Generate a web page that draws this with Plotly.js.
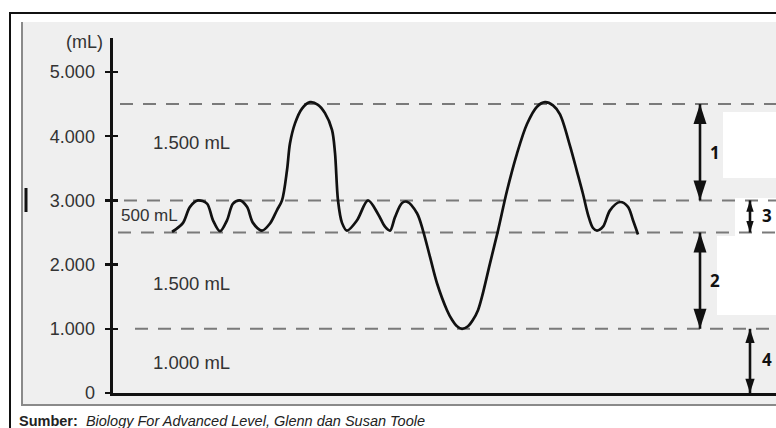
<!DOCTYPE html>
<html><head><meta charset="utf-8">
<script src="https://cdn.plot.ly/plotly-3.0.1.min.js"></script>
<style>html,body{margin:0;padding:0;background:#fff;}#chart{width:776px;height:428px;}</style>
</head><body><div id="chart"></div>
<script>
// ---- data ----
const timeT = [5.9, 6.2, 7.0, 7.7, 8.5, 9.4, 10.0, 10.7, 11.4, 12.0, 12.7, 13.4, 14.0, 14.9, 15.7, 16.4, 16.9, 17.4, 17.7, 18.2, 18.9, 19.7, 20.5, 21.2, 21.9, 22.2, 22.5, 22.9, 23.4, 24.4, 25.5, 26.5, 27.2, 27.7, 28.2, 28.9, 29.4, 30.4, 31.0, 31.7, 32.4, 33.4, 33.9, 34.4, 34.9, 35.5, 36.0, 36.5, 36.9, 37.7, 38.5, 39.4, 40.4, 41.4, 42.4, 43.2, 44.0, 44.7, 45.7, 46.4, 47.0, 47.5, 48.0, 48.4, 49.0, 49.7, 50.7, 51.5, 52.0, 52.5];
const volumeML = [2510, 2540, 2650, 2900, 3000, 2950, 2690, 2520, 2690, 2950, 3000, 2900, 2650, 2530, 2640, 2850, 3000, 3470, 3890, 4200, 4430, 4530, 4490, 4360, 4100, 3740, 3000, 2650, 2530, 2690, 3000, 2790, 2590, 2530, 2740, 2960, 2980, 2800, 2530, 2120, 1710, 1290, 1140, 1040, 1000, 1040, 1140, 1290, 1500, 2020, 2530, 3150, 3730, 4190, 4460, 4530, 4480, 4340, 3850, 3450, 3100, 2780, 2570, 2530, 2590, 2845, 2975, 2900, 2690, 2470];
const levelML = [4500, 3000, 2500, 1000];
const yTickVals = [0, 1000, 2000, 3000, 4000, 5000];
const regionLabels = ['1.500 mL', '500 mL', '1.500 mL', '1.000 mL'];
const regionLabelX = [7.8, 3.6, 7.8, 7.8];
const regionLabelY = [3900, 2770, 1710, 470];
const arrowNames = ['1', '2', '3', '4'];
const arrowX = [58.7, 58.7, 63.7, 63.7];
const arrowTop = [4500, 2500, 3000, 1000];
const arrowBottom = [3000, 1000, 2500, 0];
const arrowNameX = [60.2, 60.2, 65.4, 65.4];
const arrowNameY = [3740, 1760, 2770, 520];
const unitLabel = '(mL)';
const sourceLabel = 'Sumber:';
const sourceText = 'Biology For Advanced Level, Glenn dan Susan Toole';

// ---- layout helpers (pixel -> paper) ----
const L = 113, T = 38, PW = 663, PH = 355;
const P = x => (x - L) / PW;
const Q = y => (T + PH - y) / PH;

const traces = [];
traces.push({x: timeT, y: volumeML, type: 'scatter', mode: 'lines',
  line: {color: '#111', width: 2.7, shape: 'spline', smoothing: 0.9}, hoverinfo: 'skip'});
const headSize = [21, 21, 12, 15];
for (let i = 0; i < arrowX.length; i++) {
  traces.push({x: [arrowX[i], arrowX[i]], y: [arrowTop[i], arrowBottom[i]], type: 'scatter',
    mode: 'lines+markers', line: {color: '#111', width: 2.6},
    marker: {symbol: 'arrow', size: headSize[i], angle: [0, 180], color: '#111', line: {width: 0}},
    hoverinfo: 'skip'});
}
traces.push({x: [], y: [], yaxis: 'y2', type: 'scatter', mode: 'lines', hoverinfo: 'skip'});

const shapes = [
  {type: 'rect', xref: 'paper', yref: 'paper', x0: P(22), x1: P(800), y0: Q(405), y1: Q(22), fillcolor: '#efefef', line: {width: 0}, layer: 'below'},
  {type: 'rect', xref: 'paper', yref: 'paper', x0: P(723), x1: P(800), y0: Q(178), y1: Q(112), fillcolor: '#ffffff', line: {width: 0}, layer: 'below'},
  {type: 'rect', xref: 'paper', yref: 'paper', x0: P(735), x1: P(800), y0: Q(236), y1: Q(198), fillcolor: '#ffffff', line: {width: 0}, layer: 'below'},
  {type: 'rect', xref: 'paper', yref: 'paper', x0: P(717), x1: P(800), y0: Q(315), y1: Q(236), fillcolor: '#ffffff', line: {width: 0}, layer: 'below'},
  {type: 'line', xref: 'paper', yref: 'paper', x0: P(22), x1: P(22), y0: Q(22), y1: Q(406), line: {color: '#8a8a8a', width: 2}, layer: 'below'},
  {type: 'line', xref: 'paper', yref: 'paper', x0: P(21), x1: P(800), y0: Q(405), y1: Q(405), line: {color: '#8a8a8a', width: 2}, layer: 'below'},
  {type: 'line', xref: 'paper', yref: 'paper', x0: P(10), x1: P(800), y0: Q(13), y1: Q(13), line: {color: '#111', width: 2}},
  {type: 'line', xref: 'paper', yref: 'paper', x0: P(10), x1: P(10), y0: Q(12), y1: Q(440), line: {color: '#111', width: 2}},
  {type: 'line', xref: 'paper', yref: 'paper', x0: P(26), x1: P(26), y0: Q(188), y1: Q(212), line: {color: '#111', width: 3}}
];
const dashStart = [120, 124, 118, 135];
levelML.forEach((v, i) => shapes.push({type: 'line', xref: 'paper', yref: 'y', x0: P(dashStart[i]), x1: 1.2, y0: v, y1: v,
  line: {color: '#7a7a7a', width: 2, dash: '13px,10px'}, layer: 'below'}));

const font = 'Liberation Sans, Arial, sans-serif';
const annotations = [];
regionLabels.forEach((t, i) => annotations.push({x: regionLabelX[i], y: regionLabelY[i], xref: 'x', yref: 'y', text: t,
  showarrow: false, xanchor: 'center', yanchor: 'middle', font: {family: font, size: i === 1 ? 17 : 18.5, color: '#333'}}));
arrowNames.forEach((t, i) => annotations.push({x: arrowNameX[i], y: arrowNameY[i], xref: 'x', yref: 'y', text: '<b>' + t + '</b>',
  showarrow: false, xanchor: 'center', yanchor: 'middle', font: {family: 'Noto Sans, sans-serif', size: 17, color: '#111'}}));
annotations.push({x: P(84), y: Q(42), xref: 'paper', yref: 'paper', text: unitLabel, showarrow: false,
  xanchor: 'center', yanchor: 'middle', font: {family: font, size: 18, color: '#333'}});
annotations.push({x: P(17), y: Q(421), xref: 'paper', yref: 'paper', text: '<b>' + sourceLabel + '</b>  <i>' + sourceText + '</i>',
  showarrow: false, xanchor: 'left', yanchor: 'middle', font: {family: font, size: 14.5, color: '#222'}});

const layout = {
  width: 776, height: 428,
  margin: {l: L, r: 0, t: T, b: 428 - T - PH, pad: 0},
  paper_bgcolor: '#ffffff', plot_bgcolor: 'rgba(0,0,0,0)',
  separators: ',.', showlegend: false,
  xaxis: {range: [0, 66.3], showline: true, linecolor: '#111', linewidth: 3, showticklabels: false, ticks: '',
    showgrid: false, zeroline: false, fixedrange: true},
  yaxis: {range: [0, 5530], showline: true, linecolor: '#111', linewidth: 3.5, tickvals: yTickVals, tickformat: ',d',
    ticks: 'outside', ticklen: 5, tickwidth: 2.5, tickcolor: '#111', ticklabelstandoff: 6,
    tickfont: {family: font, size: 18, color: '#333'}, showgrid: false, zeroline: false, fixedrange: true},
  yaxis2: {overlaying: 'y', side: 'left', range: [0, 5530], tickvals: yTickVals, ticks: 'inside', ticklen: 5,
    tickwidth: 2.5, tickcolor: '#111', showticklabels: false, showgrid: false, zeroline: false, showline: false, fixedrange: true},
  shapes: shapes, annotations: annotations
};
Plotly.newPlot('chart', traces, layout, {displayModeBar: false, staticPlot: true});
</script></body></html>
